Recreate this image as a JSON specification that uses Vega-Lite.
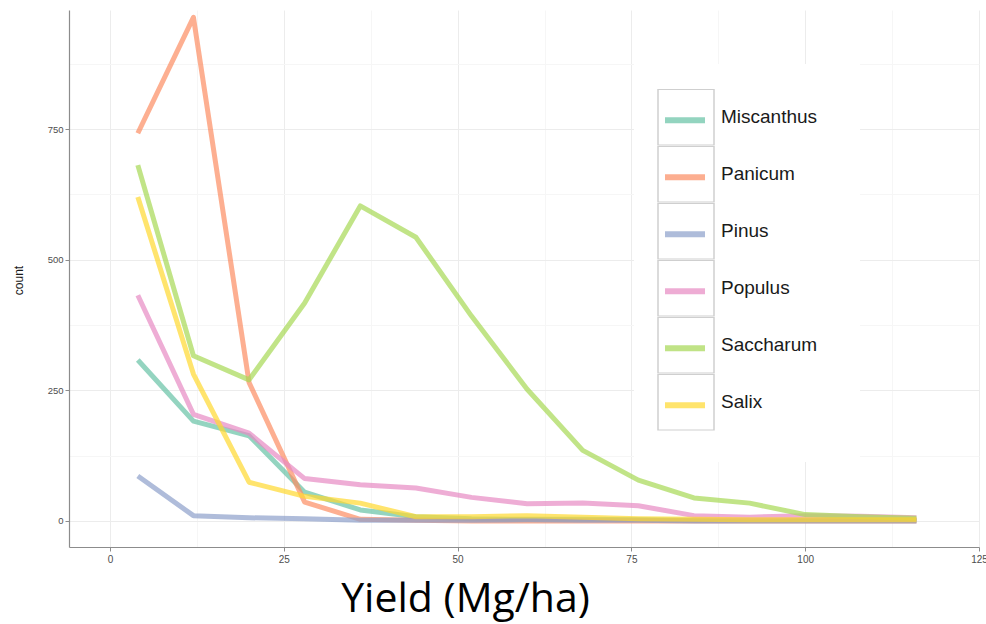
{
  "$schema": "https://vega.github.io/schema/vega-lite/v6.json",
  "width": 910,
  "height": 537,
  "autosize": "none",
  "padding": {"left": 69, "top": 10, "right": 7, "bottom": 77},
  "background": "white",
  "config": {"view": {"stroke": null}},
  "data": {"values": [
    {"species": "Miscanthus", "yield": 4, "count": 308},
    {"species": "Miscanthus", "yield": 12, "count": 191},
    {"species": "Miscanthus", "yield": 20, "count": 163},
    {"species": "Miscanthus", "yield": 28, "count": 55},
    {"species": "Miscanthus", "yield": 36, "count": 21},
    {"species": "Miscanthus", "yield": 44, "count": 8},
    {"species": "Miscanthus", "yield": 52, "count": 4},
    {"species": "Miscanthus", "yield": 60, "count": 3},
    {"species": "Miscanthus", "yield": 68, "count": 3},
    {"species": "Miscanthus", "yield": 76, "count": 2},
    {"species": "Miscanthus", "yield": 84, "count": 1},
    {"species": "Miscanthus", "yield": 92, "count": 1},
    {"species": "Miscanthus", "yield": 100, "count": 1},
    {"species": "Miscanthus", "yield": 108, "count": 1},
    {"species": "Miscanthus", "yield": 116, "count": 1},
    {"species": "Panicum", "yield": 4, "count": 742},
    {"species": "Panicum", "yield": 12, "count": 964},
    {"species": "Panicum", "yield": 20, "count": 265},
    {"species": "Panicum", "yield": 28, "count": 36},
    {"species": "Panicum", "yield": 36, "count": 3},
    {"species": "Panicum", "yield": 44, "count": 1},
    {"species": "Panicum", "yield": 52, "count": 0},
    {"species": "Panicum", "yield": 60, "count": 0},
    {"species": "Panicum", "yield": 68, "count": 0},
    {"species": "Panicum", "yield": 76, "count": 0},
    {"species": "Panicum", "yield": 84, "count": 0},
    {"species": "Panicum", "yield": 92, "count": 0},
    {"species": "Panicum", "yield": 100, "count": 0},
    {"species": "Panicum", "yield": 108, "count": 0},
    {"species": "Panicum", "yield": 116, "count": 0},
    {"species": "Pinus", "yield": 4, "count": 86},
    {"species": "Pinus", "yield": 12, "count": 10},
    {"species": "Pinus", "yield": 20, "count": 6},
    {"species": "Pinus", "yield": 28, "count": 4},
    {"species": "Pinus", "yield": 36, "count": 1},
    {"species": "Pinus", "yield": 44, "count": 1},
    {"species": "Pinus", "yield": 52, "count": 1},
    {"species": "Pinus", "yield": 60, "count": 2},
    {"species": "Pinus", "yield": 68, "count": 1},
    {"species": "Pinus", "yield": 76, "count": 1},
    {"species": "Pinus", "yield": 84, "count": 0},
    {"species": "Pinus", "yield": 92, "count": 0},
    {"species": "Pinus", "yield": 100, "count": 0},
    {"species": "Pinus", "yield": 108, "count": 0},
    {"species": "Pinus", "yield": 116, "count": 0},
    {"species": "Populus", "yield": 4, "count": 432},
    {"species": "Populus", "yield": 12, "count": 204},
    {"species": "Populus", "yield": 20, "count": 168},
    {"species": "Populus", "yield": 28, "count": 81},
    {"species": "Populus", "yield": 36, "count": 69},
    {"species": "Populus", "yield": 44, "count": 63},
    {"species": "Populus", "yield": 52, "count": 45},
    {"species": "Populus", "yield": 60, "count": 33},
    {"species": "Populus", "yield": 68, "count": 34},
    {"species": "Populus", "yield": 76, "count": 29},
    {"species": "Populus", "yield": 84, "count": 10},
    {"species": "Populus", "yield": 92, "count": 7},
    {"species": "Populus", "yield": 100, "count": 10},
    {"species": "Populus", "yield": 108, "count": 9},
    {"species": "Populus", "yield": 116, "count": 6},
    {"species": "Saccharum", "yield": 4, "count": 681},
    {"species": "Saccharum", "yield": 12, "count": 316},
    {"species": "Saccharum", "yield": 20, "count": 270},
    {"species": "Saccharum", "yield": 28, "count": 417},
    {"species": "Saccharum", "yield": 36, "count": 603},
    {"species": "Saccharum", "yield": 44, "count": 543},
    {"species": "Saccharum", "yield": 52, "count": 392},
    {"species": "Saccharum", "yield": 60, "count": 252},
    {"species": "Saccharum", "yield": 68, "count": 135},
    {"species": "Saccharum", "yield": 76, "count": 78},
    {"species": "Saccharum", "yield": 84, "count": 44},
    {"species": "Saccharum", "yield": 92, "count": 34},
    {"species": "Saccharum", "yield": 100, "count": 12},
    {"species": "Saccharum", "yield": 108, "count": 8},
    {"species": "Saccharum", "yield": 116, "count": 5},
    {"species": "Salix", "yield": 4, "count": 620},
    {"species": "Salix", "yield": 12, "count": 281},
    {"species": "Salix", "yield": 20, "count": 74},
    {"species": "Salix", "yield": 28, "count": 47},
    {"species": "Salix", "yield": 36, "count": 34},
    {"species": "Salix", "yield": 44, "count": 8},
    {"species": "Salix", "yield": 52, "count": 8},
    {"species": "Salix", "yield": 60, "count": 10},
    {"species": "Salix", "yield": 68, "count": 7},
    {"species": "Salix", "yield": 76, "count": 4},
    {"species": "Salix", "yield": 84, "count": 3},
    {"species": "Salix", "yield": 92, "count": 2},
    {"species": "Salix", "yield": 100, "count": 2},
    {"species": "Salix", "yield": 108, "count": 2},
    {"species": "Salix", "yield": 116, "count": 2}
  ]},
  "encoding": {
    "x": {
      "field": "yield", "type": "quantitative",
      "scale": {"domain": [-5.9, 125], "nice": false, "zero": false},
      "axis": {
        "values": [0, 12.5, 25, 37.5, 50, 62.5, 75, 87.5, 100, 112.5, 125],
        "labelExpr": "datum.value % 25 == 0 ? datum.label : ''",
        "labelFont": "Liberation Sans", "labelFontSize": 10, "labelColor": "#4d4d4d", "labelPadding": 3,
        "labelOverlap": false, "labelBound": false, "labelFlush": false,
        "tickSize": 4, "tickColor": "#8c8c8c",
        "tickOpacity": {"condition": {"test": "datum.value % 25 != 0", "value": 0}, "value": 1},
        "domainColor": "#8c8c8c", "domainWidth": 1.2,
        "grid": true,
        "gridColor": {"condition": {"test": "datum.value % 25 != 0", "value": "#f6f6f6"}, "value": "#ececec"},
        "title": "Yield (Mg/ha)",
        "titleFont": "Open Sans", "titleFontSize": 41, "titleFontWeight": "normal", "titleColor": "#000000",
        "titleX": 396, "titleY": 64, "titleAlign": "center", "titleBaseline": "alphabetic"
      }
    },
    "y": {
      "field": "count", "type": "quantitative",
      "scale": {"domain": [-50, 978], "nice": false, "zero": false},
      "axis": {
        "values": [0, 125, 250, 375, 500, 625, 750, 875],
        "labelExpr": "datum.value % 250 == 0 ? datum.label : ''",
        "labelFont": "Liberation Sans", "labelFontSize": 9.5, "labelColor": "#4d4d4d", "labelPadding": 2,
        "tickSize": 4, "tickColor": "#8c8c8c",
        "tickOpacity": {"condition": {"test": "datum.value % 250 != 0", "value": 0}, "value": 1},
        "domainColor": "#8c8c8c", "domainWidth": 1.2,
        "grid": true,
        "gridColor": {"condition": {"test": "datum.value % 250 != 0", "value": "#f6f6f6"}, "value": "#ececec"},
        "title": "count",
        "titleFont": "Liberation Sans", "titleFontSize": 12, "titleFontWeight": "normal", "titleColor": "#1a1a1a",
        "titleX": -44, "titleY": 270, "titleAngle": -90, "titleAlign": "center", "titleBaseline": "bottom"
      }
    }
  },
  "layer": [
    {
      "mark": {"type": "line", "strokeWidth": 5, "opacity": 0.7, "strokeJoin": "round"},
      "encoding": {
        "color": {
          "field": "species", "type": "nominal",
          "scale": {"range": ["#66c2a5", "#fc8d62", "#8da0cb", "#e78ac3", "#a6d854", "#ffd92f"]},
          "legend": {
            "orient": "none", "legendX": 565, "legendY": 54,
            "title": null,
            "fillColor": "white",
            "padding": 28,
            "symbolType": "stroke", "symbolSize": 1600, "symbolStrokeWidth": 6, "symbolOpacity": 0.7,
            "clipHeight": 56.5, "rowPadding": 0,
            "labelExpr": "''", "labelFontSize": 19, "labelOffset": 124, "labelLimit": 200
          }
        }
      }
    },
    {
      "mark": {"type": "point", "opacity": 0, "stroke": "#cfcfcf", "filled": false},
      "encoding": {
        "shape": {
          "field": "species", "type": "nominal",
          "scale": {"domain": ["Miscanthus", "Panicum", "Pinus", "Populus", "Saccharum", "Salix"], "range": ["square"]},
          "legend": {
            "orient": "none", "legendX": 588, "legendY": 79,
            "title": null,
            "padding": 0,
            "symbolType": "square", "symbolSize": 3136, "symbolStrokeWidth": 1.5, "symbolOpacity": 1,
            "symbolStrokeColor": "#cfcfcf", "symbolFillColor": "transparent",
            "clipHeight": 56.5, "rowPadding": 0,
            "labelFont": "Liberation Sans", "labelFontSize": 19, "labelColor": "#1a1a1a", "labelOffset": 6, "labelLimit": 200
          }
        }
      }
    }
  ]
}
